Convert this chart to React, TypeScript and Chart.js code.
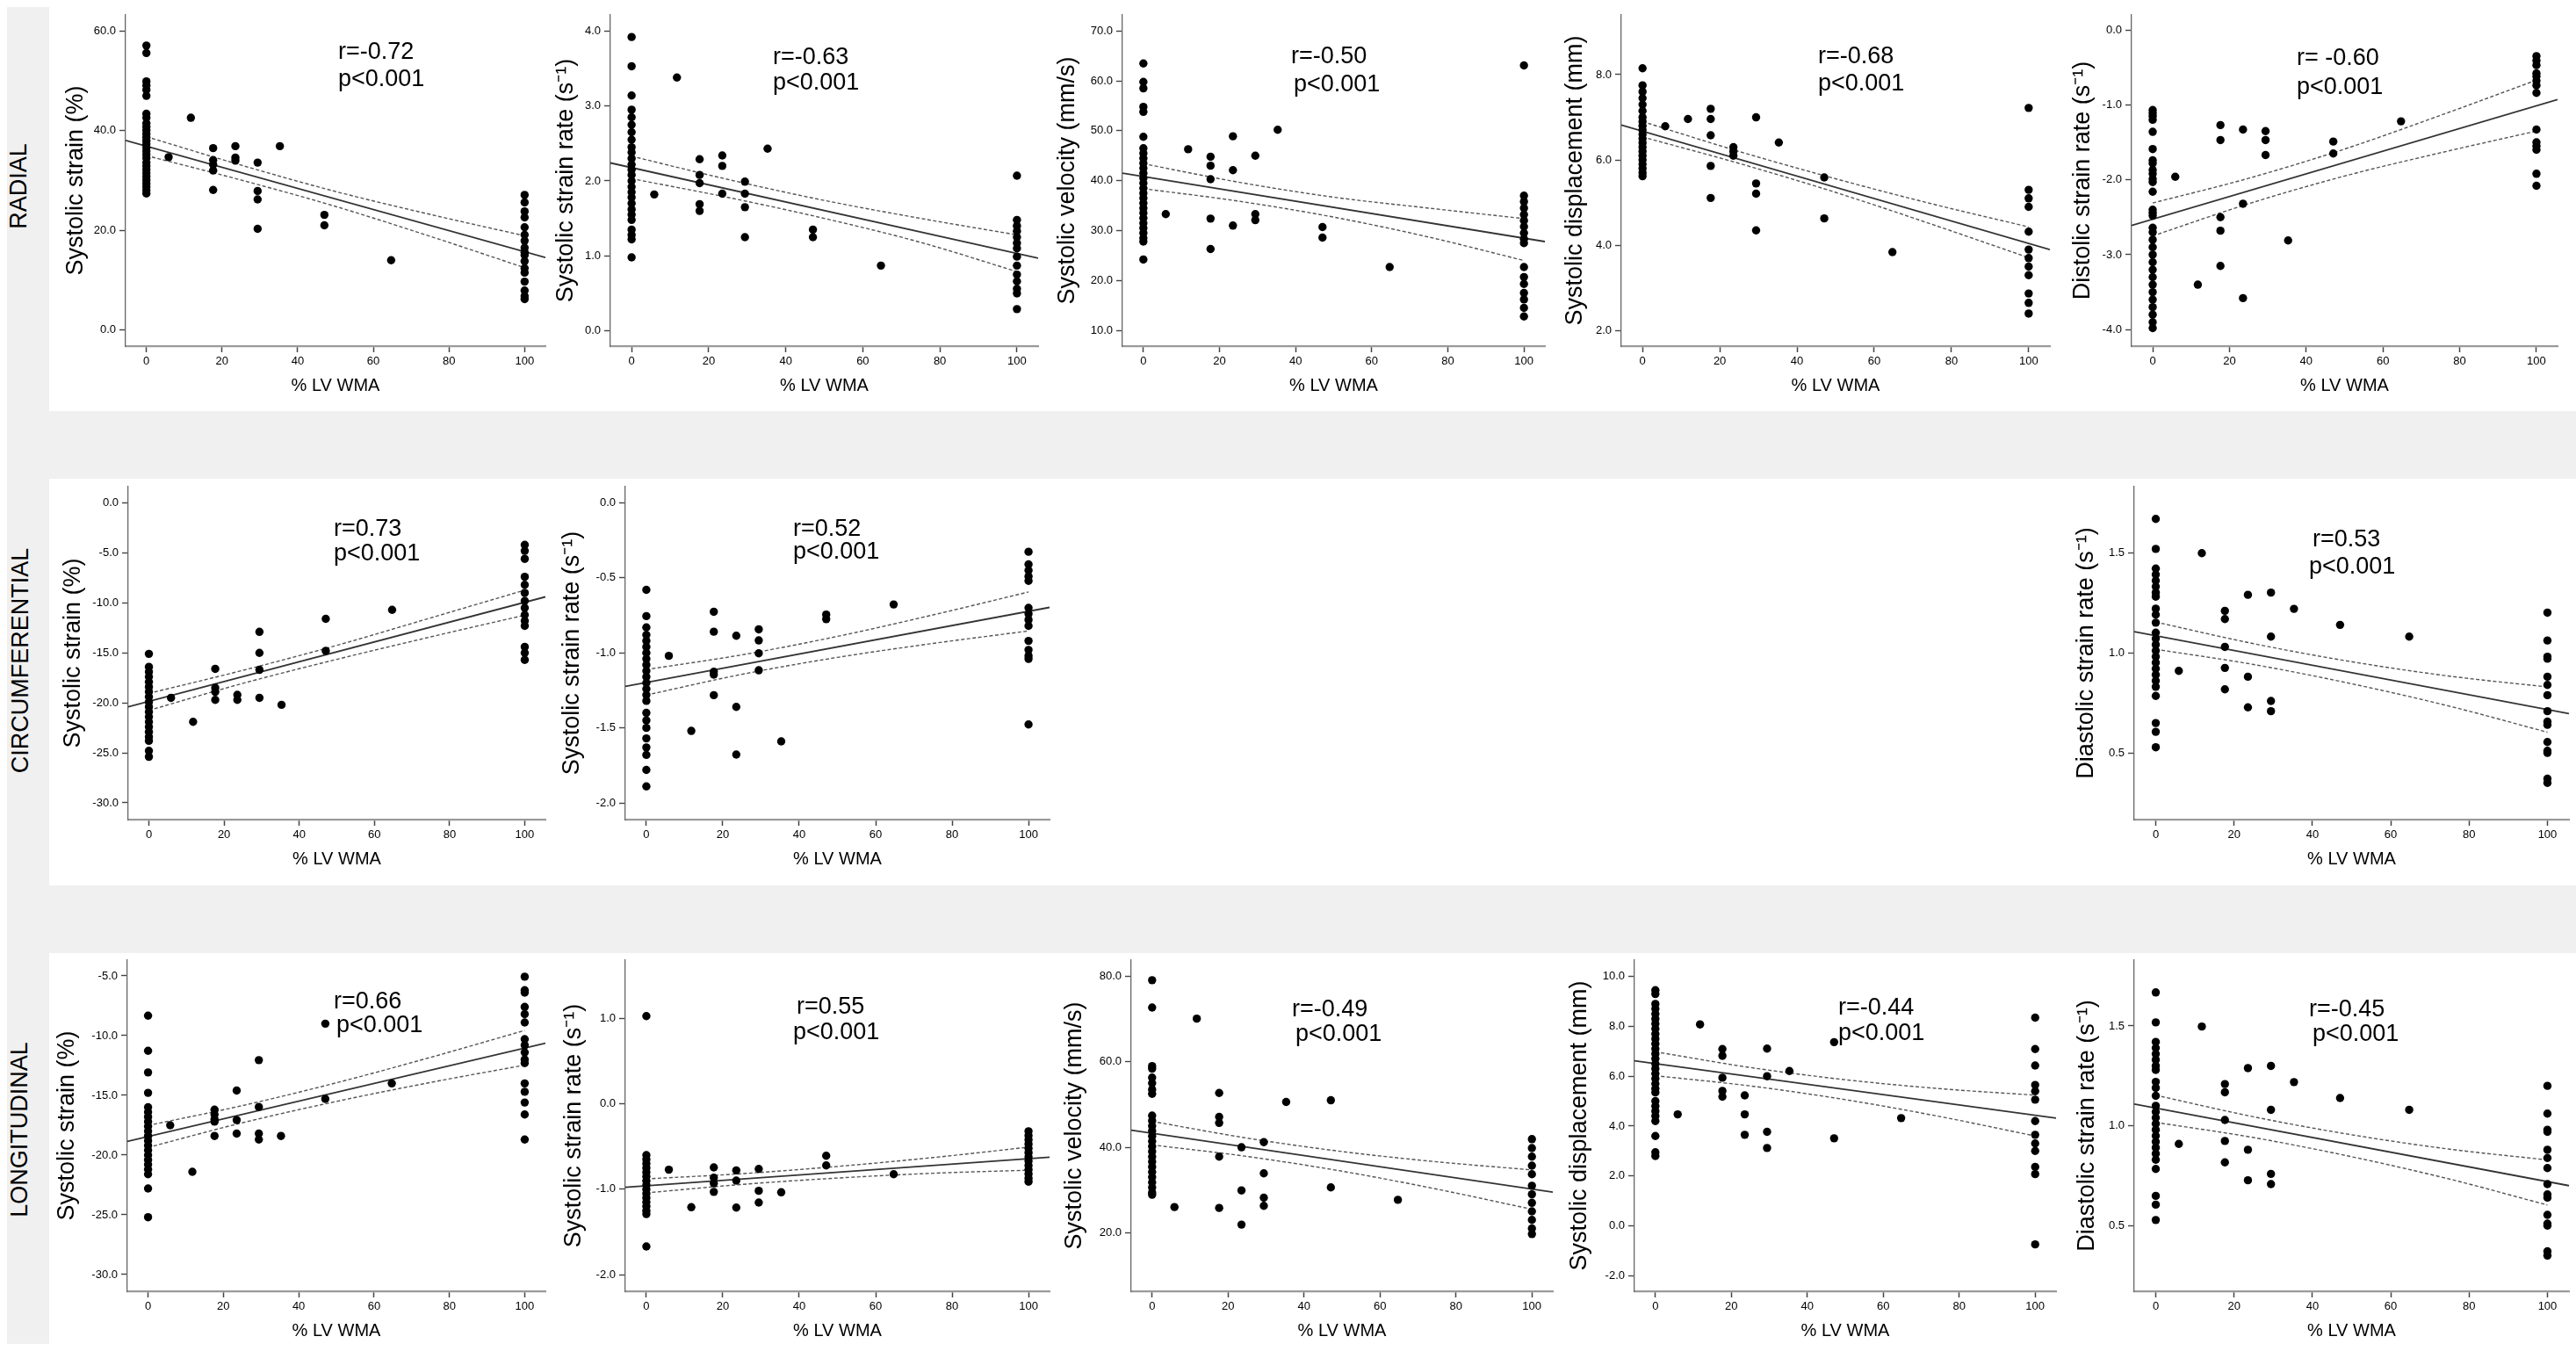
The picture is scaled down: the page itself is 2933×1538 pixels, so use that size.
import React, { useEffect, useRef } from "react";
import { Chart, registerables } from "chart.js";

Chart.register(...registerables);

const FONT = "'Liberation Sans', Arial, Helvetica, sans-serif";

// ---------- shared axis data ----------
const WMA_TICKS = [0, 20, 40, 60, 80, 100];
const WMA_MIN = -5.5;
const WMA_MAX = 105.5;
const CI_X = [0, 25, 50, 75, 100];
const P_TEXT = "p<0.001";
const ROW_LABELS = ["RADIAL", "CIRCUMFERENTIAL", "LONGITUDINAL"];

type Col = [number, number[]];

// ---------- RADIAL ----------
const RAD_STRAIN: Col[] = [
  [0, [57.1, 55.6, 49.9, 49.1, 48.2, 47.0, 43.4, 42.6, 41.5, 40.8, 40.1, 39.4, 38.7, 38.0, 37.3, 36.6, 35.9, 35.2, 34.5, 33.6, 32.9, 32.2, 31.5, 30.8, 30.1, 29.4, 28.7, 28.0, 27.4]],
  [5.88, [34.7]],
  [11.76, [42.6]],
  [17.65, [36.5, 34.1, 33.2, 32.0, 28.1]],
  [23.53, [36.9, 34.6, 34.0]],
  [29.41, [33.6, 27.9, 26.2, 20.3]],
  [35.29, [36.9]],
  [47.06, [23.1, 21.0]],
  [64.71, [14.0]],
  [100, [27.1, 25.6, 23.8, 22.6, 20.6, 19.1, 17.9, 16.5, 15.6, 15.0, 13.8, 12.4, 11.5, 9.7, 7.9, 6.8, 6.2]],
];
const RAD_STRAIN_FIT = [38.07, 14.53];
const RAD_STRAIN_CI_UP = [38.8, 33.1, 27.8, 23.2, 18.9];
const RAD_STRAIN_CI_LO = [35.0, 30.1, 24.8, 18.8, 12.5];

const RAD_SR: Col[] = [
  [0, [3.92, 3.53, 3.14, 2.95, 2.85, 2.75, 2.65, 2.55, 2.45, 2.38, 2.3, 2.22, 2.15, 2.08, 2.0, 1.92, 1.85, 1.78, 1.7, 1.62, 1.55, 1.48, 1.35, 1.28, 1.22, 0.98]],
  [5.88, [1.82]],
  [11.76, [3.38]],
  [17.65, [2.29, 2.08, 1.97, 1.69, 1.6]],
  [23.53, [2.34, 2.2, 1.83]],
  [29.41, [1.99, 1.83, 1.65, 1.25]],
  [35.29, [2.43]],
  [47.06, [1.35, 1.25]],
  [64.71, [0.87]],
  [100, [2.07, 1.48, 1.4, 1.33, 1.25, 1.17, 1.1, 0.99, 0.87, 0.75, 0.66, 0.56, 0.5, 0.29]],
];
const RAD_SR_FIT = [2.24, 0.97];
const RAD_SR_CI_UP = [2.33, 2.02, 1.74, 1.5, 1.28];
const RAD_SR_CI_LO = [2.03, 1.78, 1.5, 1.18, 0.79];

const RAD_VEL: Col[] = [
  [0, [63.5, 59.8, 58.5, 54.8, 53.8, 48.8, 46.5, 45.5, 44.5, 43.5, 42.5, 41.5, 40.5, 39.5, 38.5, 37.5, 36.5, 35.5, 34.5, 33.5, 32.5, 31.5, 30.5, 29.5, 28.5, 27.8, 24.2]],
  [5.88, [33.3]],
  [11.76, [46.3]],
  [17.65, [44.8, 43.0, 40.3, 32.4, 26.3]],
  [23.53, [48.9, 42.1, 31.0]],
  [29.41, [45.0, 33.3, 32.1]],
  [35.29, [50.2]],
  [47.06, [30.7, 28.6]],
  [64.71, [22.7]],
  [100, [63.1, 37.0, 35.8, 34.5, 33.2, 32.0, 30.8, 29.5, 28.3, 27.5, 22.7, 20.7, 19.3, 17.5, 16.2, 14.5, 12.8]],
];
const RAD_VEL_FIT = [41.5, 27.8];
const RAD_VEL_CI_UP = [43.4, 39.7, 36.7, 34.5, 32.4];
const RAD_VEL_CI_LO = [38.4, 35.9, 32.7, 28.7, 24.0];

const RAD_DISP: Col[] = [
  [0, [8.15, 7.75, 7.6, 7.45, 7.3, 7.15, 7.0, 6.9, 6.8, 6.7, 6.6, 6.5, 6.4, 6.3, 6.2, 6.1, 6.0, 5.9, 5.8, 5.7, 5.62]],
  [5.88, [6.79]],
  [11.76, [6.96]],
  [17.65, [7.2, 6.96, 6.58, 5.86, 5.11]],
  [23.53, [6.3, 6.2, 6.1]],
  [29.41, [7.0, 5.45, 5.21, 4.35]],
  [35.29, [6.41]],
  [47.06, [5.59, 4.63]],
  [64.71, [3.84]],
  [100, [7.22, 5.3, 5.1, 4.9, 4.32, 3.9, 3.7, 3.5, 3.3, 2.87, 2.65, 2.4]],
];
const RAD_DISP_FIT = [6.82, 3.9];
const RAD_DISP_CI_UP = [6.9, 6.2, 5.56, 4.97, 4.43];
const RAD_DISP_CI_LO = [6.54, 5.92, 5.24, 4.49, 3.71];

const RAD_DSR: Col[] = [
  [0, [-1.07, -1.11, -1.15, -1.2, -1.36, -1.59, -1.74, -1.78, -1.87, -1.92, -1.99, -2.03, -2.16, -2.4, -2.44, -2.48, -2.64, -2.7, -2.8, -2.9, -3.0, -3.1, -3.2, -3.3, -3.4, -3.5, -3.6, -3.7, -3.8, -3.9, -3.98]],
  [5.88, [-1.96]],
  [11.76, [-3.4]],
  [17.65, [-1.27, -1.47, -2.5, -2.68, -3.15]],
  [23.53, [-1.33, -2.32, -3.58]],
  [29.41, [-1.35, -1.47, -1.67]],
  [35.29, [-2.81]],
  [47.06, [-1.49, -1.65]],
  [64.71, [-1.22]],
  [100, [-0.35, -0.41, -0.47, -0.58, -0.62, -0.68, -0.74, -0.84, -1.33, -1.5, -1.55, -1.6, -1.92, -2.08]],
];
const RAD_DSR_FIT = [-2.61, -0.93];
const RAD_DSR_CI_UP = [-2.31, -1.98, -1.59, -1.14, -0.67];
const RAD_DSR_CI_LO = [-2.75, -2.32, -1.95, -1.64, -1.35];

// ---------- CIRCUMFERENTIAL ----------
const CIR_STRAIN: Col[] = [
  [0, [-15.1, -16.4, -16.9, -17.4, -17.9, -18.4, -18.9, -19.4, -19.9, -20.4, -20.9, -21.4, -21.9, -22.4, -22.9, -23.4, -23.8, -24.8, -25.4]],
  [5.88, [-19.5]],
  [11.76, [-21.9]],
  [17.65, [-16.6, -18.5, -18.9, -19.7]],
  [23.53, [-19.2, -19.7]],
  [29.41, [-12.9, -15.0, -16.7, -19.5]],
  [35.29, [-20.2]],
  [47.06, [-11.6, -14.8]],
  [64.71, [-10.7]],
  [100, [-4.2, -4.8, -5.6, -7.4, -8.2, -9.0, -9.8, -10.5, -11.2, -11.8, -12.3, -14.4, -15.0, -15.7]],
];
const CIR_STRAIN_FIT = [-20.4, -9.4];
const CIR_STRAIN_CI_UP = [-19.05, -16.75, -14.25, -11.5, -8.73];
const CIR_STRAIN_CI_LO = [-20.75, -18.05, -15.65, -13.4, -11.23];

const CIR_SR: Col[] = [
  [0, [-0.58, -0.755, -0.83, -0.88, -0.92, -0.96, -1.0, -1.04, -1.08, -1.12, -1.16, -1.2, -1.24, -1.28, -1.32, -1.4, -1.45, -1.5, -1.57, -1.63, -1.68, -1.78, -1.89]],
  [5.88, [-1.02]],
  [11.76, [-1.52]],
  [17.65, [-0.726, -0.859, -1.126, -1.145, -1.282]],
  [23.53, [-0.886, -1.36, -1.678]],
  [29.41, [-0.843, -0.917, -1.003, -1.116]],
  [35.29, [-1.59]],
  [47.06, [-0.745, -0.775]],
  [64.71, [-0.677]],
  [100, [-0.326, -0.41, -0.45, -0.49, -0.52, -0.7, -0.74, -0.78, -0.82, -0.92, -0.98, -1.02, -1.04, -1.477]],
];
const CIR_SR_FIT = [-1.223, -0.697];
const CIR_SR_CI_UP = [-1.111, -1.013, -0.89, -0.747, -0.594];
const CIR_SR_CI_LO = [-1.281, -1.143, -1.03, -0.937, -0.854];

const CIR_DSR: Col[] = [
  [0, [1.668, 1.518, 1.42, 1.39, 1.36, 1.33, 1.3, 1.28, 1.22, 1.19, 1.15, 1.1, 1.07, 1.04, 1.01, 0.98, 0.95, 0.92, 0.89, 0.86, 0.83, 0.784, 0.649, 0.605, 0.528]],
  [5.88, [0.909]],
  [11.76, [1.497]],
  [17.65, [1.209, 1.168, 1.029, 0.924, 0.817]],
  [23.53, [1.289, 0.88, 0.727]],
  [29.41, [1.3, 1.08, 0.759, 0.708]],
  [35.29, [1.219]],
  [47.06, [1.139]],
  [64.71, [1.08]],
  [100, [1.2, 1.061, 0.98, 0.97, 0.88, 0.839, 0.788, 0.708, 0.656, 0.64, 0.554, 0.51, 0.5, 0.371, 0.35]],
];
const CIR_DSR_FIT = [1.105, 0.696];
const CIR_DSR_CI_UP = [1.153, 1.045, 0.955, 0.883, 0.829];
const CIR_DSR_CI_LO = [1.017, 0.941, 0.845, 0.733, 0.603];

// ---------- LONGITUDINAL ----------
const LON_STRAIN: Col[] = [
  [0, [-8.33, -11.27, -13.08, -14.79, -16.0, -16.4, -16.8, -17.2, -17.6, -18.0, -18.4, -18.8, -19.2, -19.6, -20.0, -20.4, -20.8, -21.2, -21.6, -22.8, -25.2]],
  [5.88, [-17.5]],
  [11.76, [-21.4]],
  [17.65, [-16.2, -16.6, -17.0, -17.2, -18.4]],
  [23.53, [-14.6, -17.07, -18.2]],
  [29.41, [-12.05, -15.97, -18.2, -18.7]],
  [35.29, [-18.4]],
  [47.06, [-9.0, -15.3]],
  [64.71, [-14.0]],
  [100, [-5.07, -6.2, -6.4, -7.6, -8.2, -8.9, -10.3, -10.8, -11.4, -12.0, -12.3, -14.0, -14.7, -15.6, -16.6, -18.7]],
];
const LON_STRAIN_FIT = [-18.86, -10.63];
const LON_STRAIN_CI_UP = [-17.52, -15.86, -13.95, -11.82, -9.57];
const LON_STRAIN_CI_LO = [-19.36, -17.3, -15.51, -13.92, -12.47];

const LON_SR: Col[] = [
  [0, [1.03, -0.6, -0.65, -0.7, -0.75, -0.8, -0.85, -0.9, -0.95, -1.0, -1.05, -1.1, -1.15, -1.2, -1.25, -1.29, -1.67]],
  [5.88, [-0.77]],
  [11.76, [-1.21]],
  [17.65, [-0.744, -0.864, -0.93, -1.03]],
  [23.53, [-0.778, -0.898, -1.214]],
  [29.41, [-0.761, -1.018, -1.155]],
  [35.29, [-1.035]],
  [47.06, [-0.607, -0.72]],
  [64.71, [-0.823]],
  [100, [-0.32, -0.37, -0.42, -0.47, -0.52, -0.57, -0.62, -0.67, -0.72, -0.77, -0.82, -0.87, -0.91]],
];
const LON_SR_FIT = [-0.977, -0.624];
const LON_SR_CI_UP = [-0.878, -0.817, -0.732, -0.628, -0.506];
const LON_SR_CI_LO = [-1.042, -0.943, -0.868, -0.812, -0.776];

const LON_VEL: Col[] = [
  [0, [79.1, 72.7, 59.0, 58.4, 56.3, 55.0, 53.5, 52.5, 47.4, 46.2, 45.0, 43.8, 42.6, 41.4, 40.2, 39.0, 37.8, 36.6, 35.4, 34.2, 33.0, 31.8, 30.6, 29.4, 28.9]],
  [5.88, [26.0]],
  [11.76, [70.1]],
  [17.65, [52.7, 47.1, 45.7, 37.8, 25.8]],
  [23.53, [40.0, 29.9, 21.9]],
  [29.41, [41.2, 33.9, 28.2, 26.3]],
  [35.29, [50.6]],
  [47.06, [51.0, 30.6]],
  [64.71, [27.7]],
  [100, [41.9, 39.8, 37.8, 35.7, 33.7, 31.0, 29.0, 27.0, 25.0, 23.0, 21.0, 19.7]],
];
const LON_VEL_FIT = [44.0, 29.5];
const LON_VEL_CI_UP = [46.05, 42.15, 39.0, 36.6, 34.7];
const LON_VEL_CI_LO = [40.55, 37.85, 34.4, 30.2, 25.5];

const LON_DISP: Col[] = [
  [0, [9.45, 9.3, 8.9, 8.7, 8.5, 8.3, 8.1, 7.9, 7.7, 7.5, 7.3, 7.1, 6.9, 6.7, 6.5, 6.3, 6.1, 5.9, 5.7, 5.5, 5.35, 5.0, 4.8, 4.6, 4.4, 4.2, 3.6, 2.95, 2.8]],
  [5.88, [4.47]],
  [11.76, [8.08]],
  [17.65, [7.09, 6.82, 5.94, 5.41, 5.18]],
  [23.53, [5.23, 4.47, 3.65]],
  [29.41, [7.11, 6.0, 3.77, 3.12]],
  [35.29, [6.21]],
  [47.06, [7.37, 3.51]],
  [64.71, [4.32]],
  [100, [8.35, 7.09, 6.43, 5.65, 5.4, 5.06, 4.2, 3.65, 3.3, 3.0, 2.36, 2.07, -0.75]],
];
const LON_DISP_FIT = [6.62, 4.32];
const LON_DISP_CI_UP = [6.98, 6.35, 5.86, 5.5, 5.24];
const LON_DISP_CI_LO = [6.02, 5.61, 5.06, 4.38, 3.6];

const LON_DSR: Col[] = CIR_DSR;
const LON_DSR_FIT = [1.109, 0.7];
const LON_DSR_CI_UP = [1.153, 1.045, 0.955, 0.883, 0.829];
const LON_DSR_CI_LO = [1.017, 0.941, 0.845, 0.733, 0.603];

// ---------- layout (page pixels) ----------
const ROW_TOP = [16.7, 554.3, 1092.7];
const ROW_BOTTOM = [393.3, 933.3, 1470];
const ROW_LABEL_POS = [
  [21, 212],
  [23, 752],
  [22, 1286],
];

type Panel = {
  row: number;
  axisLeft: number;
  plotRight: number;
  title: string;
  titleOffset: number;
  yMin: number;
  yMax: number;
  yTicks: number[];
  pts: Col[];
  fit: number[];
  ciUp: number[];
  ciLo: number[];
  r: string;
  rPos: number[];
  pPos: number[];
};

const PANELS: Panel[] = [
  { row: 0, axisLeft: 143, plotRight: 621, title: "Systolic strain (%)", titleOffset: 56, yMin: -3.25, yMax: 63.25, yTicks: [0, 20, 40, 60], pts: RAD_STRAIN, fit: RAD_STRAIN_FIT, ciUp: RAD_STRAIN_CI_UP, ciLo: RAD_STRAIN_CI_LO, r: "r=-0.72", rPos: [385, 67], pPos: [385, 98] },
  { row: 0, axisLeft: 695, plotRight: 1182, title: "Systolic strain rate (s\u207B\u00B9)", titleOffset: 50, yMin: -0.204, yMax: 4.215, yTicks: [0, 1, 2, 3, 4], pts: RAD_SR, fit: RAD_SR_FIT, ciUp: RAD_SR_CI_UP, ciLo: RAD_SR_CI_LO, r: "r=-0.63", rPos: [880, 73], pPos: [880, 102] },
  { row: 0, axisLeft: 1278, plotRight: 1759, title: "Systolic velocity (mm/s)", titleOffset: 62, yMin: 6.85, yMax: 73.22, yTicks: [10, 20, 30, 40, 50, 60, 70], pts: RAD_VEL, fit: RAD_VEL_FIT, ciUp: RAD_VEL_CI_UP, ciLo: RAD_VEL_CI_LO, r: "r=-0.50", rPos: [1470, 72], pPos: [1473, 104] },
  { row: 0, axisLeft: 1846, plotRight: 2334, title: "Systolic displacement (mm)", titleOffset: 52, yMin: 1.637, yMax: 9.4, yTicks: [2, 4, 6, 8], pts: RAD_DISP, fit: RAD_DISP_FIT, ciUp: RAD_DISP_CI_UP, ciLo: RAD_DISP_CI_LO, r: "r=-0.68", rPos: [2070, 72], pPos: [2070, 103] },
  { row: 0, axisLeft: 2427, plotRight: 2912, title: "Distolic strain rate (s\u207B\u00B9)", titleOffset: 55, yMin: -4.22, yMax: 0.2, yTicks: [-4, -3, -2, -1, 0], pts: RAD_DSR, fit: RAD_DSR_FIT, ciUp: RAD_DSR_CI_UP, ciLo: RAD_DSR_CI_LO, r: "r= -0.60", rPos: [2615, 74], pPos: [2615, 107] },

  { row: 1, axisLeft: 146, plotRight: 621, title: "Systolic strain (%)", titleOffset: 62, yMin: -31.67, yMax: 1.62, yTicks: [-30, -25, -20, -15, -10, -5, 0], pts: CIR_STRAIN, fit: CIR_STRAIN_FIT, ciUp: CIR_STRAIN_CI_UP, ciLo: CIR_STRAIN_CI_LO, r: "r=0.73", rPos: [380, 610], pPos: [380, 638] },
  { row: 1, axisLeft: 712, plotRight: 1195, title: "Systolic strain rate (s\u207B\u00B9)", titleOffset: 60, yMin: -2.111, yMax: 0.108, yTicks: [-2, -1.5, -1, -0.5, 0], pts: CIR_SR, fit: CIR_SR_FIT, ciUp: CIR_SR_CI_UP, ciLo: CIR_SR_CI_LO, r: "r=0.52", rPos: [903, 610], pPos: [903, 636] },
  { row: 1, axisLeft: 2430, plotRight: 2925, title: "Diastolic strain rate (s\u207B\u00B9)", titleOffset: 54, yMin: 0.167, yMax: 1.829, yTicks: [0.5, 1.0, 1.5], pts: CIR_DSR, fit: CIR_DSR_FIT, ciUp: CIR_DSR_CI_UP, ciLo: CIR_DSR_CI_LO, r: "r=0.53", rPos: [2633, 622], pPos: [2629, 653] },

  { row: 2, axisLeft: 145, plotRight: 621, title: "Systolic strain (%)", titleOffset: 68, yMin: -31.4, yMax: -3.68, yTicks: [-30, -25, -20, -15, -10, -5], pts: LON_STRAIN, fit: LON_STRAIN_FIT, ciUp: LON_STRAIN_CI_UP, ciLo: LON_STRAIN_CI_LO, r: "r=0.66", rPos: [380, 1148], pPos: [383, 1175] },
  { row: 2, axisLeft: 712, plotRight: 1195, title: "Systolic strain rate (s\u207B\u00B9)", titleOffset: 58, yMin: -2.195, yMax: 1.686, yTicks: [-2, -1, 0, 1], pts: LON_SR, fit: LON_SR_FIT, ciUp: LON_SR_CI_UP, ciLo: LON_SR_CI_LO, r: "r=0.55", rPos: [907, 1154], pPos: [903, 1183] },
  { row: 2, axisLeft: 1288, plotRight: 1768, title: "Systolic velocity (mm/s)", titleOffset: 64, yMin: 6.3, yMax: 83.8, yTicks: [20, 40, 60, 80], pts: LON_VEL, fit: LON_VEL_FIT, ciUp: LON_VEL_CI_UP, ciLo: LON_VEL_CI_LO, r: "r=-0.49", rPos: [1471, 1157], pPos: [1475, 1185] },
  { row: 2, axisLeft: 1861, plotRight: 2341, title: "Systolic displacement (mm)", titleOffset: 62, yMin: -2.63, yMax: 10.66, yTicks: [-2, 0, 2, 4, 6, 8, 10], pts: LON_DISP, fit: LON_DISP_FIT, ciUp: LON_DISP_CI_UP, ciLo: LON_DISP_CI_LO, r: "r=-0.44", rPos: [2093, 1155], pPos: [2093, 1184] },
  { row: 2, axisLeft: 2430, plotRight: 2925, title: "Diastolic strain rate (s\u207B\u00B9)", titleOffset: 53, yMin: 0.171, yMax: 1.83, yTicks: [0.5, 1.0, 1.5], pts: LON_DSR, fit: LON_DSR_FIT, ciUp: LON_DSR_CI_UP, ciLo: LON_DSR_CI_LO, r: "r=-0.45", rPos: [2629, 1157], pPos: [2633, 1185] },
];

const PAD_L = 112;
const PAD_R = 8;
const PAD_T = 14;
const PAD_B = 70;
const Y_TITLE_SIZE = 27;
const ANNOT_SIZE = 27;

function ScatterPanel({ p }: { p: Panel }) {
  const ref = useRef<HTMLCanvasElement | null>(null);
  const top = ROW_TOP[p.row];
  const bottom = ROW_BOTTOM[p.row];
  const left = p.axisLeft - PAD_L;
  const cTop = top - PAD_T;
  const W = Math.round(p.plotRight - p.axisLeft + PAD_L + PAD_R);
  const H = Math.round(bottom - top + PAD_T + PAD_B);

  useEffect(() => {
    if (!ref.current) return;
    const pts = p.pts.flatMap(([x, ys]) => ys.map((y) => ({ x, y })));
    const annot = {
      id: "annot",
      afterDraw(chart: any) {
        const ctx = chart.ctx;
        ctx.save();
        ctx.font = `${ANNOT_SIZE}px ${FONT}`;
        ctx.fillStyle = "#000";
        ctx.textBaseline = "alphabetic";
        ctx.textAlign = "left";
        ctx.fillText(p.r, p.rPos[0] - left, p.rPos[1] - cTop);
        ctx.fillText(P_TEXT, p.pPos[0] - left, p.pPos[1] - cTop);
        ctx.restore();
      },
    };
    const ciStyle = {
      showLine: true,
      pointRadius: 0,
      borderColor: "#555",
      borderWidth: 1.4,
      borderDash: [4, 2.5],
      cubicInterpolationMode: "monotone",
      order: 2,
    };
    const chart = new Chart(ref.current, {
      type: "scatter",
      data: {
        datasets: [
          {
            data: pts,
            pointRadius: 4.7,
            pointHoverRadius: 4.7,
            pointBackgroundColor: "#000",
            backgroundColor: "#000",
            borderWidth: 0,
            pointBorderWidth: 0,
            order: 0,
          },
          {
            data: [
              { x: WMA_MIN, y: p.fit[0] },
              { x: WMA_MAX, y: p.fit[1] },
            ],
            showLine: true,
            pointRadius: 0,
            borderColor: "#333",
            borderWidth: 1.8,
            order: 1,
          },
          { ...ciStyle, data: CI_X.map((x, i) => ({ x, y: p.ciUp[i] })) },
          { ...ciStyle, data: CI_X.map((x, i) => ({ x, y: p.ciLo[i] })) },
        ] as any,
      },
      options: {
        animation: false,
        responsive: false,
        events: [],
        layout: { padding: { left: 0, top: PAD_T, right: PAD_R, bottom: 0 } },
        plugins: { legend: { display: false }, tooltip: { enabled: false } },
        scales: {
          x: {
            type: "linear",
            min: WMA_MIN,
            max: WMA_MAX,
            bounds: "data",
            afterBuildTicks: (s: any) => {
              s.ticks = WMA_TICKS.map((v) => ({ value: v }));
            },
            afterFit: (s: any) => {
              s.height = PAD_B;
            },
            grid: { display: true, drawOnChartArea: false, drawTicks: true, tickLength: 7, tickColor: "#444", tickWidth: 1.5 },
            border: { display: true, color: "#9a9a9a", width: 2.2 },
            ticks: { color: "#000", font: { size: 13, family: FONT }, padding: 3, maxRotation: 0, autoSkip: false, callback: (v: any) => String(v) },
            title: { display: true, text: "% LV WMA", color: "#000", font: { size: 20, family: FONT }, padding: { top: 0, bottom: 13 } },
          },
          y: {
            type: "linear",
            min: p.yMin,
            max: p.yMax,
            bounds: "data",
            afterBuildTicks: (s: any) => {
              s.ticks = p.yTicks.map((v) => ({ value: v }));
            },
            afterFit: (s: any) => {
              s.width = PAD_L;
            },
            grid: { display: true, drawOnChartArea: false, drawTicks: true, tickLength: 7, tickColor: "#444", tickWidth: 1.4 },
            border: { display: true, color: "#666", width: 1.3 },
            ticks: { color: "#000", font: { size: 13, family: FONT }, padding: 4, autoSkip: false, callback: (v: any) => Number(v).toFixed(1) },
            title: {
              display: true,
              text: p.title,
              color: "#000",
              font: { size: Y_TITLE_SIZE, family: FONT },
              padding: { top: PAD_L - p.titleOffset - (Y_TITLE_SIZE * 1.2) / 2, bottom: 0 },
            },
          },
        },
      } as any,
      plugins: [annot],
    });
    return () => chart.destroy();
  }, []);

  return (
    <canvas
      ref={ref}
      width={W}
      height={H}
      style={{ position: "absolute", left, top: cTop, width: W, height: H }}
    />
  );
}

export default function App() {
  const gray = "#f0f0f0";
  return (
    <div
      style={{
        position: "absolute",
        left: 0,
        top: 0,
        width: 2933,
        height: 1538,
        background: "#fff",
        overflow: "hidden",
        fontFamily: FONT,
      }}
    >
      <div style={{ position: "absolute", left: 8, top: 8, width: 48, height: 1522, background: gray }} />
      <div style={{ position: "absolute", left: 8, top: 468, width: 2925, height: 77, background: gray }} />
      <div style={{ position: "absolute", left: 8, top: 1008, width: 2925, height: 77, background: gray }} />
      {ROW_LABELS.map((t, i) => (
        <div
          key={t}
          style={{
            position: "absolute",
            left: ROW_LABEL_POS[i][0],
            top: ROW_LABEL_POS[i][1],
            transform: "translate(-50%, -50%) rotate(-90deg)",
            fontSize: 27,
            lineHeight: "30px",
            whiteSpace: "nowrap",
            color: "#000",
          }}
        >
          {t}
        </div>
      ))}
      {PANELS.map((p, i) => (
        <ScatterPanel key={i} p={p} />
      ))}
    </div>
  );
}
